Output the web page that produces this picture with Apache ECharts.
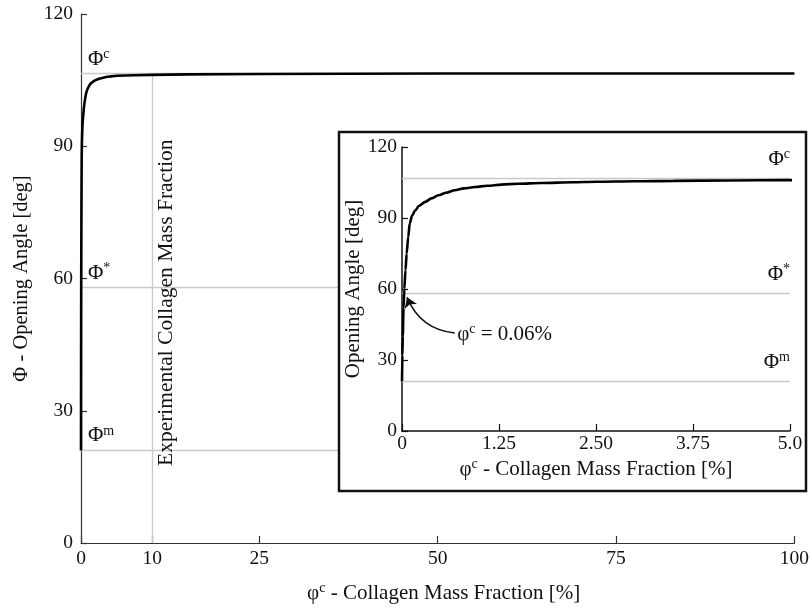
<!DOCTYPE html>
<html>
<head>
<meta charset="utf-8">
<script src="https://cdn.jsdelivr.net/npm/echarts@6/dist/echarts.min.js"></script>
<style>html,body{margin:0;padding:0;background:#fff;}#c{width:812px;height:610px;}</style>
</head>
<body>
<div id="c"></div>
<script>
// Curve: collagen mass fraction [%] vs opening angle [deg]
var curveX = [0, 0.005, 0.01, 0.02, 0.03, 0.045, 0.06, 0.08, 0.10, 0.13, 0.17, 0.22, 0.30, 0.38, 0.47, 0.57, 0.68, 0.80, 0.94, 1.10, 1.28, 1.50, 1.80, 2.20, 2.50, 3.00, 3.50, 4.20, 5.00, 7.50, 10, 15, 25, 50, 75, 100];
var curveY = [21, 32, 40, 52, 60, 68, 75, 82, 87.8, 91, 93.2, 95.2, 96.8, 98.3, 99.6, 100.7, 101.7, 102.5, 103.1, 103.6, 104.1, 104.5, 104.8, 105.1, 105.3, 105.5, 105.7, 105.85, 106.0, 106.1, 106.2, 106.3, 106.4, 106.5, 106.5, 106.5];
// Reference levels
var refNames = ['c', '*', 'm'];
var refValues = [106.6, 58.0, 21.1];
var experimentalFraction = 10;
// Tick labels
var mainXTicks = [0, 10, 25, 50, 75, 100];
var mainYTicks = [0, 30, 60, 90, 120];
var insetXLabels = ['0', '1.25', '2.50', '3.75', '5.0'];
var insetYTicks = [0, 30, 60, 90, 120];
// Annotation arrow (from text to curve)
var annotFrom = [0.68, 41.4];
var annotTo = [0.065, 56.5];
var annotText = '0.06%';

var FF = 'Liberation Serif';
var TXT = '#111';
var GRAY = '#c9c9c9';
var rich = {
  a: {fontFamily: FF, fontSize: 21, color: TXT, lineHeight: 24},
  s: {fontFamily: FF, fontSize: 14, color: TXT, verticalAlign: 'top', lineHeight: 24}
};
var curveData = curveX.map(function (x, i) { return [x, curveY[i]]; });

function refLines(pos, dist) {
  return refNames.map(function (n, i) {
    return {
      yAxis: refValues[i],
      label: {show: true, position: pos, distance: dist, formatter: '{a|Φ}{s|' + n + '}', rich: rich}
    };
  });
}

var mainLines = refLines('insideStartTop', [7, 2]);
mainLines.push([
  {coord: [experimentalFraction, 0], label: {show: true, position: 'insideMiddleBottom', distance: 3,
    formatter: 'Experimental Collagen Mass Fraction', fontFamily: FF, fontSize: 21.5, color: TXT, padding: [0, 0, 0, 12]}},
  {coord: [experimentalFraction, 106.3]}
]);

var tickFont = {fontFamily: FF, fontSize: 19.5, color: TXT};

var option = {
  animation: false,
  backgroundColor: '#fff',
  grid: [
    {left: 81, right: 5, top: 14, bottom: 67},
    {left: 402, right: 22, top: 147, bottom: 179}
  ],
  xAxis: [
    {
      type: 'value', gridIndex: 0, min: 0, max: 100,
      name: '{a|φ}{s|c}{a| - Collagen Mass Fraction [%]}', nameLocation: 'middle', nameGap: 38,
      nameTextStyle: {rich: rich, padding: [0, 0, 0, 12]},
      axisLine: {lineStyle: {color: '#333', width: 1.2}},
      axisTick: {inside: true, length: 7, customValues: mainXTicks, lineStyle: {color: '#333', width: 1.2}},
      axisLabel: Object.assign({customValues: mainXTicks, margin: 6}, tickFont),
      splitLine: {show: false}
    },
    {
      type: 'value', gridIndex: 1, min: 0, max: 5, interval: 1.25, z: 20,
      name: '{a|φ}{s|c}{a| - Collagen Mass Fraction [%]}', nameLocation: 'middle', nameGap: 26,
      nameTextStyle: {rich: rich},
      axisLine: {lineStyle: {color: '#111', width: 1.5}},
      axisTick: {inside: true, length: 7, lineStyle: {color: '#111', width: 1.2}},
      axisLabel: Object.assign({margin: 3,
        formatter: function (v) { return insetXLabels[Math.round(v / 1.25)]; }}, tickFont),
      splitLine: {show: false}
    }
  ],
  yAxis: [
    {
      type: 'value', gridIndex: 0, min: 0, max: 120, interval: 30,
      name: 'Φ - Opening Angle [deg]', nameLocation: 'middle', nameGap: 49,
      nameTextStyle: {fontFamily: FF, fontSize: 20.5, color: TXT},
      axisLine: {show: true, lineStyle: {color: '#333', width: 1.2}},
      axisTick: {show: true, inside: true, length: 6, customValues: mainYTicks, lineStyle: {color: '#333', width: 1.2}},
      axisLabel: Object.assign({customValues: mainYTicks, margin: 8}, tickFont),
      splitLine: {show: false}
    },
    {
      type: 'value', gridIndex: 1, min: 0, max: 120, interval: 30, z: 20,
      name: 'Opening Angle [deg]', nameLocation: 'middle', nameGap: 30,
      nameTextStyle: {fontFamily: FF, fontSize: 21, color: TXT},
      axisLine: {show: true, lineStyle: {color: '#111', width: 1.5}},
      axisTick: {show: true, inside: true, length: 6, customValues: insetYTicks, lineStyle: {color: '#111', width: 1.2}},
      axisLabel: Object.assign({customValues: insetYTicks, margin: 5}, tickFont),
      splitLine: {show: false}
    }
  ],
  graphic: {
    elements: [{
      type: 'rect', z: 10,
      shape: {x: 339, y: 132, width: 467, height: 359},
      style: {fill: '#fff', stroke: '#111', lineWidth: 2.5}
    }]
  },
  series: [
    {
      type: 'line', xAxisIndex: 0, yAxisIndex: 0, data: curveData, showSymbol: false, z: 3,
      lineStyle: {color: '#000', width: 2.6},
      markLine: {
        silent: true, symbol: 'none', z: 2,
        lineStyle: {color: GRAY, width: 1.3, type: 'solid'},
        data: mainLines
      }
    },
    {
      type: 'line', xAxisIndex: 1, yAxisIndex: 1, data: curveData, showSymbol: false, z: 22,
      smooth: 0.3, smoothMonotone: 'x',
      lineStyle: {color: '#000', width: 2.6},
      markLine: {
        silent: true, symbol: 'none', z: 21,
        lineStyle: {color: GRAY, width: 1.3, type: 'solid'},
        data: refLines('insideEndTop', [0, 7])
      }
    },
    {
      type: 'lines', coordinateSystem: 'cartesian2d', xAxisIndex: 1, yAxisIndex: 1, z: 23, silent: true,
      symbol: ['none', 'arrow'], symbolSize: [8, 10],
      lineStyle: {color: '#111', width: 1.6, type: 'solid', curveness: 0.3, opacity: 1},
      label: {show: true, position: 'start', distance: 3,
        formatter: '{a|φ}{s|c}{a| = ' + annotText + '}', rich: rich},
      data: [{coords: [annotFrom, annotTo]}]
    }
  ]
};
echarts.init(document.getElementById('c'), null, {renderer: 'canvas'}).setOption(option);
</script>
</body>
</html>
